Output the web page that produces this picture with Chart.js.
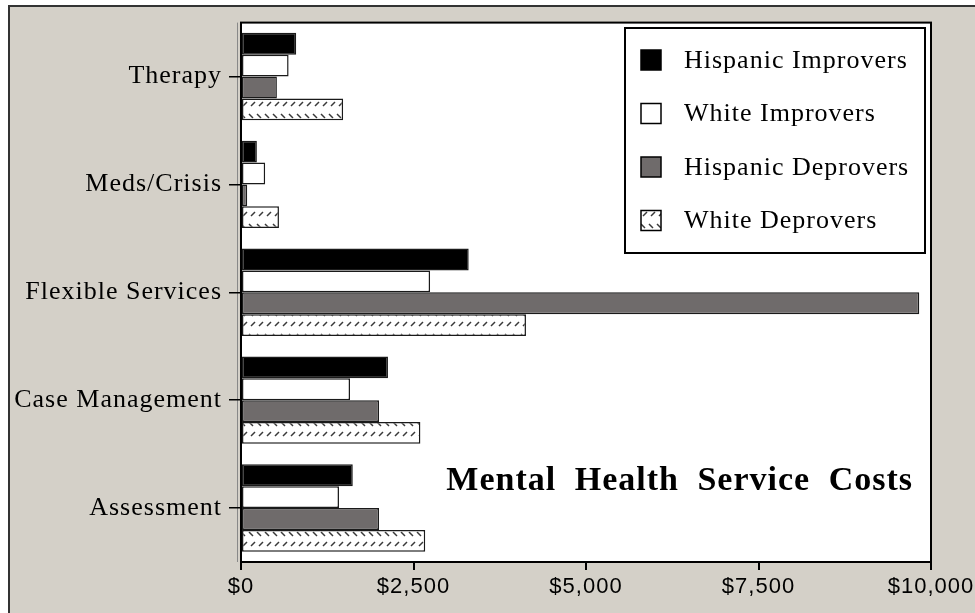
<!DOCTYPE html>
<html>
<head>
<meta charset="utf-8">
<script src="https://cdn.jsdelivr.net/npm/chart.js@4"></script>
<style>
  html,body{margin:0;padding:0;background:#fff;overflow:hidden}
  #wrap{width:975px;height:613px}
</style>
</head>
<body>
<div id="wrap"><canvas id="c" width="975" height="613"></canvas></div>
<script>
/* ---------- data ---------- */
const CATEGORIES = ['Therapy','Meds/Crisis','Flexible Services','Case Management','Assessment'];
const SERIES     = ['Hispanic Improvers','White Improvers','Hispanic Deprovers','White Deprovers'];
const HISP_IMP   = [800, 230, 3300, 2130, 1620];
const WHITE_IMP  = [690, 350, 2740, 1580, 1420];
const HISP_DEP   = [520,  90, 9830, 2000, 2000];
const WHITE_DEP  = [1480, 550, 4130, 2600, 2670];
const X_TICKS    = [0, 2500, 5000, 7500, 10000];
const TITLE      = 'Mental Health Service Costs';

const SERIF = '"Liberation Serif", "DejaVu Serif", serif';
const SANS  = '"Liberation Sans", Arial, sans-serif';
const PANEL = '#d4d0c8';

/* hatched fill for the last series */
function makeHatch() {
  const t = document.createElement('canvas');
  t.width = 8; t.height = 22;
  const g = t.getContext('2d');
  g.fillStyle = '#fff'; g.fillRect(0,0,8,22);
  g.strokeStyle = '#3a3a3a'; g.lineWidth = 1.5;
  g.beginPath();
  g.moveTo(1,4);  g.lineTo(5,8);     // "\"
  g.moveTo(3,18); g.lineTo(7,14);    // "/"
  g.stroke();
  return document.getElementById('c').getContext('2d').createPattern(t,'repeat');
}
const hatch = makeHatch();

const FILLS  = ['#000000', '#ffffff', '#6f6b6b', hatch];
const VALUES = [HISP_IMP, WHITE_IMP, HISP_DEP, WHITE_DEP];

/* ---------- frame, plot background, legend, title ---------- */
const decor = {
  id: 'decor',
  beforeDraw(chart) {
    const {ctx, chartArea:a} = chart;
    ctx.save();
    ctx.fillStyle = '#fff'; ctx.fillRect(0,0,975,613);
    ctx.fillStyle = PANEL;  ctx.fillRect(8,6,975,613);
    ctx.strokeStyle = '#333'; ctx.lineWidth = 2;
    ctx.strokeRect(9,6,980,620);
    ctx.fillStyle = '#fff';
    ctx.fillRect(a.left, a.top, a.right-a.left, a.bottom-a.top);
    ctx.strokeStyle = '#888'; ctx.lineWidth = 1;
    ctx.beginPath(); ctx.moveTo(a.left-3.5, a.top); ctx.lineTo(a.left-3.5, a.bottom); ctx.stroke();
    ctx.restore();
    ctx.letterSpacing = '1px';          // wide bitmap-style lettering on axes
  },
  afterDraw(chart) {
    const {ctx, chartArea:a} = chart;
    ctx.save();
    ctx.strokeStyle = '#000'; ctx.lineWidth = 2;
    ctx.strokeRect(a.left, a.top, a.right-a.left, a.bottom-a.top);

    // legend box
    ctx.fillStyle = '#fff';
    ctx.fillRect(625,28,300,225);
    ctx.strokeRect(625,28,300,225);
    ctx.font = '26px ' + SERIF;
    ctx.letterSpacing = '1px';
    ctx.textBaseline = 'middle';
    chart.data.datasets.forEach((ds,i)=>{
      const y = 60 + i*53.5;
      ctx.fillStyle = ds.backgroundColor;
      ctx.fillRect(641, y-10, 20, 20);
      ctx.lineWidth = 1.5; ctx.strokeStyle = '#000';
      ctx.strokeRect(641, y-10, 20, 20);
      ctx.fillStyle = '#000';
      ctx.fillText(ds.label, 684, y+1);
    });

    // title
    ctx.font = 'bold 34px ' + SERIF;
    ctx.letterSpacing = '1px';
    ctx.wordSpacing = '9px';
    ctx.textAlign = 'right';
    ctx.fillStyle = '#000';
    ctx.fillText(TITLE, 913, 481);
    ctx.restore();
  }
};

new Chart(document.getElementById('c'), {
  type: 'bar',
  data: {
    labels: CATEGORIES,
    datasets: SERIES.map((s,i)=>({
      label: s,
      data: VALUES[i],
      backgroundColor: FILLS[i],
      borderColor: '#1a1a1a',
      borderWidth: 1.5,
      borderSkipped: false,
      categoryPercentage: 0.81,
      barPercentage: 1.0
    }))
  },
  options: {
    indexAxis: 'y',
    responsive: false,
    animation: false,
    devicePixelRatio: 1,
    events: [],
    layout: { padding: { left: 10, top: 13, right: 44, bottom: 4 } },
    plugins: { legend: { display: false }, tooltip: { enabled: false } },
    scales: {
      x: {
        type: 'linear',
        min: X_TICKS[0], max: X_TICKS[X_TICKS.length-1],
        afterBuildTicks: sc => { sc.ticks = X_TICKS.map(v=>({value:v})); },
        afterFit: sc => { sc.height = 47; },
        ticks: {
          color: '#000', padding: 4, maxRotation: 0,
          font: { family: SANS, size: 22 },
          callback: v => '$' + Number(v).toLocaleString('en-US')
        },
        grid: { drawOnChartArea: false, drawTicks: true, tickLength: 8, color: '#000', lineWidth: 2 },
        border: { color: '#000', width: 2 }
      },
      y: {
        afterFit: sc => { sc.width = 231; },
        ticks: { color: '#000', padding: 7, font: { family: SERIF, size: 26 } },
        grid: { offset: false, drawOnChartArea: false, drawTicks: true, tickLength: 12, color: '#000', lineWidth: 1.5 },
        border: { color: '#000', width: 2 }
      }
    }
  },
  plugins: [decor]
});
</script>
</body>
</html>
